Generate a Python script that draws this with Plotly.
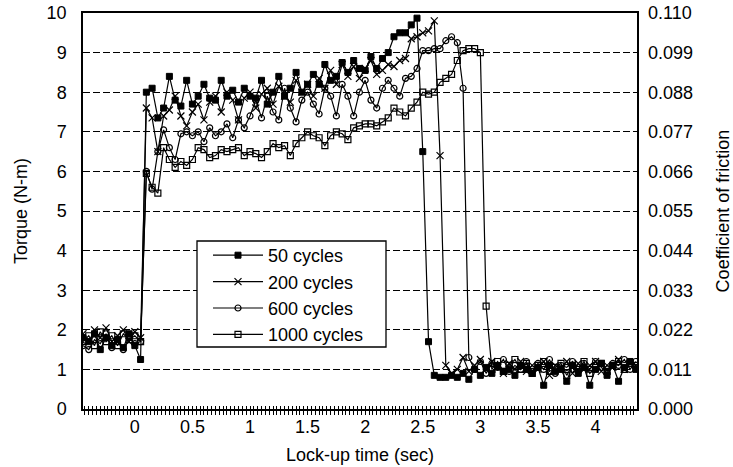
import plotly.graph_objects as go

# ---------------- data ----------------
T_START = -0.45
T_STEP = 0.05
N_POINTS = 97
time_s = [round(T_START + T_STEP * i, 2) for i in range(N_POINTS)]

series_names = ["50 cycles", "200 cycles", "600 cycles", "1000 cycles"]

torque_50 = [
    1.8, 1.7, 1.9, 1.5, 1.8, 1.6, 1.75, 1.55, 1.9, 1.6, 1.25,
    8.0, 8.1, 7.35, 7.6, 8.4, 7.8, 7.65, 8.3, 7.7, 7.9, 8.2, 7.85, 7.8, 8.3,
    7.9, 8.05, 7.75, 8.1, 7.9, 7.85, 8.3, 7.7, 8.0, 8.4, 7.9, 8.1, 8.5, 8.0,
    8.2, 8.45, 8.2, 8.7, 8.3, 8.4, 8.75, 8.5, 8.8, 8.6, 8.55, 8.9, 8.6, 8.85,
    9.0, 9.4, 9.5, 9.5, 9.7, 9.87,
    6.5, 1.7,
    0.85, 0.8, 0.8, 0.85, 0.8, 0.9, 0.75, 1.0, 0.85, 1.05, 0.9, 1.1, 0.95, 1.0,
    0.85, 1.1, 1.0, 0.9, 1.05, 0.6, 1.1, 0.95, 1.0, 0.7, 1.1, 0.9, 1.05, 0.6,
    1.0, 1.15, 0.85, 1.1, 0.7, 1.05, 1.2, 1.0,
]
torque_200 = [
    1.9, 1.7, 2.0, 1.8, 2.05, 1.7, 1.85, 2.0, 1.7, 1.95, 1.8,
    7.6, 7.35, 6.5, 7.4, 7.55, 7.9, 7.4, 7.15, 7.5, 7.7, 7.3, 7.75, 7.9, 7.5,
    8.0, 7.8, 7.3, 7.85, 8.0, 7.6, 7.95, 8.1, 7.7, 8.15, 7.9, 7.75, 8.3, 8.0,
    8.2, 7.9, 8.35, 8.1, 8.55, 8.2, 8.7, 8.4, 8.65, 8.35, 8.6, 8.8, 8.45, 8.55,
    8.7, 8.65, 8.8, 8.85, 9.35, 9.4, 9.5, 9.55, 9.8, 6.4, 1.1,
    0.9, 1.0, 1.3, 0.95, 1.1, 1.25, 1.0, 1.2, 1.05, 0.9, 1.15, 1.0, 1.2, 0.95,
    1.1, 1.0, 1.2, 0.85, 1.1, 1.05, 1.2, 0.9, 1.15, 1.0, 1.1, 1.2, 0.95, 1.1,
    1.05, 1.25, 1.0, 1.15, 1.1,
]
torque_600 = [
    1.6, 1.5, 1.75, 1.65, 1.9, 1.55, 1.7, 1.5, 1.8, 1.65, 1.7,
    6.0, 5.55, 6.5, 7.05, 6.6, 6.3, 6.95, 7.0, 6.9, 7.0, 6.75, 7.1, 6.9, 7.0,
    7.2, 6.85, 7.3, 7.1, 7.4, 7.8, 7.35, 7.9, 7.5, 7.3, 8.1, 7.6, 7.25, 7.8,
    8.0, 7.7, 7.45, 8.1, 7.9, 7.4, 8.2, 7.9, 7.4, 8.0, 8.3, 7.8, 7.6, 8.1,
    8.3, 8.1, 7.9, 8.35, 8.4, 8.6, 9.05, 9.05, 9.1, 9.1, 9.3, 9.4, 9.25, 8.1, 1.3,
    1.0, 1.2, 0.9, 1.15, 1.05, 1.25, 0.95, 1.1, 1.0, 1.2, 0.95, 1.15, 1.0, 1.25,
    0.9, 1.1, 1.05, 1.2, 0.95, 1.15, 1.0, 1.2, 1.05, 0.9, 1.15, 1.1, 1.25, 1.0, 1.2,
]
torque_1000 = [
    1.7, 1.85, 1.6, 1.95, 1.7, 1.85, 1.6, 1.9, 1.75, 1.85, 1.7,
    5.95, 5.6, 5.45, 6.6, 6.3, 6.1, 6.25, 6.15, 6.3, 6.6, 6.55, 6.35, 6.4, 6.55,
    6.5, 6.55, 6.6, 6.4, 6.5, 6.45, 6.35, 6.5, 6.7, 6.6, 6.65, 6.4, 6.7, 6.85,
    7.0, 6.9, 6.85, 6.65, 6.9, 7.0, 6.95, 6.8, 7.1, 7.15, 7.2, 7.2, 7.15, 7.25,
    7.35, 7.6, 7.5, 7.4, 7.6, 7.75, 8.0, 7.95, 8.0, 8.25, 8.35, 8.45, 8.8, 9.05,
    9.1, 9.1, 9.0, 2.6,
    1.0, 1.2, 0.95, 1.1, 1.25, 1.0, 1.15, 0.9, 1.1, 1.2, 0.95, 1.05, 1.15, 0.85,
    1.1, 1.0, 1.2, 0.9, 1.05, 1.15, 0.95, 1.1, 1.2, 1.0, 1.15, 1.1,
]

torque_ticks = list(range(0, 11))
x_tick_values = [0, 0.5, 1, 1.5, 2, 2.5, 3, 3.5, 4]
cof_ticks = [0.000, 0.011, 0.022, 0.033, 0.044, 0.055, 0.066, 0.077, 0.088, 0.099, 0.110]
cof_labels = ["0.000", "0.011", "0.022", "0.033", "0.044", "0.055",
              "0.066", "0.077", "0.088", "0.099", "0.110"]

# ---------------- figure ----------------
FONT = "Liberation Sans, Arial, sans-serif"
marker_styles = [
    dict(symbol="square", size=6, color="black", line=dict(color="black", width=1)),
    dict(symbol="x-thin", size=7, color="black", line=dict(color="black", width=1.2)),
    dict(symbol="circle-open", size=6, color="black", line=dict(color="black", width=1.2)),
    dict(symbol="square-open", size=6, color="black", line=dict(color="black", width=1.2)),
]
series_values = [torque_50, torque_200, torque_600, torque_1000]

fig = go.Figure()
for name, vals, mk in zip(series_names, series_values, marker_styles):
    fig.add_trace(go.Scatter(
        x=time_s[:len(vals)], y=vals, name=name, mode="lines+markers",
        line=dict(color="black", width=1.2), marker=mk,
    ))

# helper traces so the secondary axes get drawn
fig.add_trace(go.Scatter(x=[None], y=[None], yaxis="y2", showlegend=False, hoverinfo="skip"))
fig.add_trace(go.Scatter(x=[None], y=[None], xaxis="x2", showlegend=False, hoverinfo="skip"))

# plot-area geometry (pixels) used for placing the legend frame
L, R, T, B = 83, 637, 13, 409
W, H = R - L, B - T


def px_x(p):
    return (p - L) / W


def px_y(p):
    return (B - p) / H


xrange = [-0.45, 4.36]
fig.update_layout(
    width=733, height=467,
    margin=dict(l=L, r=733 - R, t=T, b=467 - B, autoexpand=False),
    paper_bgcolor="white", plot_bgcolor="white",
    font=dict(family=FONT, color="black", size=18),
    showlegend=True,
    legend=dict(
        x=px_x(208), y=px_y(237), xanchor="left", yanchor="top",
        bgcolor="rgba(0,0,0,0)", borderwidth=0,
        font=dict(size=18, family=FONT), itemwidth=50, tracegroupgap=0,
    ),
    shapes=[dict(
        type="rect", xref="paper", yref="paper",
        x0=px_x(197), x1=px_x(386), y0=px_y(347), y1=px_y(241),
        line=dict(color="black", width=1.3), fillcolor="white", layer="above",
    )],
    xaxis=dict(
        range=xrange, tickmode="array", tickvals=x_tick_values, automargin=False,
        ticks="outside", ticklen=4, tickcolor="black", tickwidth=1,
        minor=dict(tick0=0, dtick=0.5 / 15, ticks="outside", ticklen=4,
                   tickcolor="black", tickwidth=1, showgrid=False),
        showline=True, linecolor="black", linewidth=1.5, mirror=True,
        showgrid=False, zeroline=False,
        tickfont=dict(size=18), ticklabelstandoff=-3,
        title=dict(text="Lock-up time (sec)", font=dict(size=18), standoff=12),
    ),
    xaxis2=dict(
        range=xrange, overlaying="x", anchor="y", side="bottom", automargin=False,
        tick0=0, dtick=0.5 / 15, ticks="inside", ticklen=3, tickcolor="black",
        showticklabels=False, showline=False, showgrid=False, zeroline=False,
    ),
    yaxis=dict(
        range=[0, 10], tickmode="array", tickvals=torque_ticks, automargin=False,
        ticks="", showline=True, linecolor="black", linewidth=1.5, mirror=True,
        showgrid=True, gridcolor="black", gridwidth=1.4, griddash="7px,3px",
        zeroline=False, tickfont=dict(size=18), ticklabelstandoff=11,
        title=dict(text="Torque (N-m)", font=dict(size=18), standoff=14),
    ),
    yaxis2=dict(
        range=[0, 0.110], overlaying="y", side="right", anchor="x", automargin=False,
        tickmode="array", tickvals=cof_ticks, ticktext=cof_labels,
        ticks="", showgrid=False, zeroline=False, showline=False,
        tickfont=dict(size=18), ticklabelstandoff=10,
        title=dict(text="Coefficient of friction", font=dict(size=18), standoff=24),
    ),
)

fig.write_html(
    "out.html",
    config={"displayModeBar": False},
    post_script="document.body.style.margin='0px';document.body.style.overflow='hidden';",
)
